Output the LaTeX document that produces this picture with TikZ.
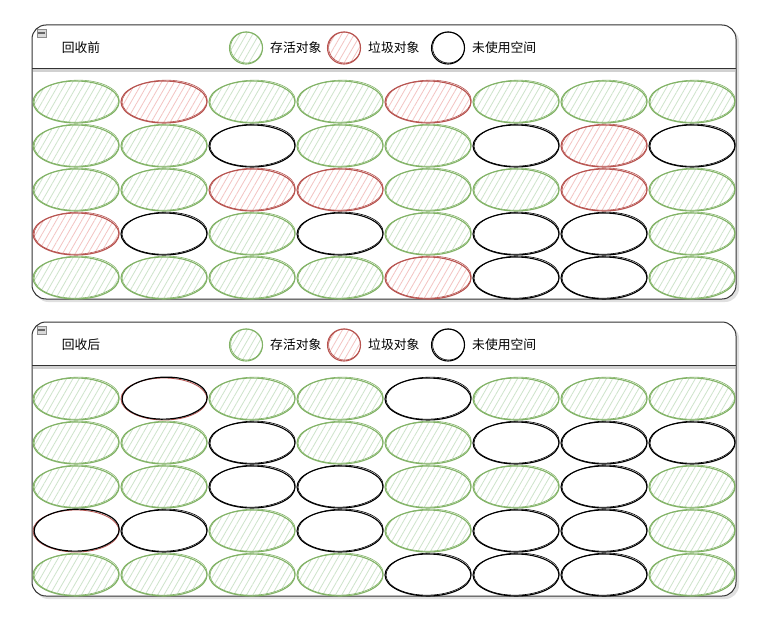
\documentclass[tikz,border=0pt]{standalone}
\usepackage{fontspec}
\setmainfont{Noto Sans CJK SC}
\usetikzlibrary{shapes.geometric,patterns.meta}
\definecolor{gstroke}{HTML}{82B366}
\definecolor{gfill}{HTML}{D5E8D4}
\definecolor{rstroke}{HTML}{B85450}
\definecolor{rfill}{HTML}{F8CECC}
\definecolor{frame}{HTML}{333333}

\newcommand\gcpanel[4]{%
  % shadow and frame
  \fill[black!12, rounded corners=14pt] (34.5,#2+2.5) rectangle (739,#2+277);
  \draw[fill=white, draw=frame, line width=1pt, rounded corners=14pt] (32,#2) rectangle (736,#2+274);
  \draw[black!18, line width=3pt] (33,#2+45.5) -- (735,#2+45.5);
  \draw[frame, line width=1pt] (32,#2+43.5) -- (736,#2+43.5);
  % minimise icon
  \draw[fill=black!15, draw=black!45, line width=0.6pt] (37,#2+4) rectangle (46,#2+12);
  \fill[black!60] (38.3,#2+7.3) rectangle (44.7,#2+9.3);
  % title and legend
  \node[txt] (title#1) at (81,#2+23) {#3};
  \node[cellG, minimum width=33pt, minimum height=32pt] (lg#1) at (246,#2+23) {};
  \draw[lineG] ([xshift=0.6pt,yshift=0.5pt]lg#1.center) ellipse [x radius=16pt, y radius=15.5pt];
  \node[txt, anchor=west] (lgt#1) at (270,#2+23) {存活对象};
  \node[cellR, minimum width=33pt, minimum height=32pt] (lr#1) at (344,#2+23) {};
  \draw[lineR] ([xshift=0.6pt,yshift=0.5pt]lr#1.center) ellipse [x radius=16pt, y radius=15.5pt];
  \node[txt, anchor=west] (lrt#1) at (368,#2+23) {垃圾对象};
  \node[cellB, minimum width=33pt, minimum height=32pt] (lb#1) at (448,#2+23) {};
  \draw[lineB] ([xshift=0.6pt,yshift=0.5pt]lb#1.center) ellipse [x radius=16pt, y radius=15.5pt];
  \node[txt, anchor=west] (lbt#1) at (472,#2+23) {未使用空间};
  % cells
  \foreach \rowlist [count=\r] in {#4} {
    \foreach \c [count=\k] in \rowlist {
      \pgfmathsetmacro\cx{76+88*(\k-1)}
      \pgfmathsetmacro\cy{#2+77+44*(\r-1)}
      \node[cell\c] (c#1-\r-\k) at (\cx,\cy) {};
      \draw[line\c, rotate around={1.5:(c#1-\r-\k.center)}]
        ([xshift=0.7pt,yshift=0.8pt]c#1-\r-\k.center) ellipse [x radius=42.6pt, y radius=21pt];
    }
  }
}

\begin{document}
\begin{tikzpicture}[x=1pt,y=-1pt,
  txt/.style={inner sep=0pt, font=\fontsize{12.8}{15}\selectfont, text=black},
  cellbase/.style={ellipse, minimum width=86pt, minimum height=42pt, inner sep=0pt, line width=1.1pt},
  cellG/.style={cellbase, draw=gstroke, pattern={Lines[angle=60,distance=5.5pt,line width=0.8pt]}, pattern color=gfill!92!gstroke},
  cellR/.style={cellbase, draw=rstroke, pattern={Lines[angle=60,distance=5.5pt,line width=0.8pt]}, pattern color=rfill!92!rstroke},
  cellB/.style={cellbase, draw=black, fill=white},
  cellX/.style={cellbase, draw=rstroke, fill=white, line width=0.8pt},
  lineG/.style={draw=gstroke, line width=0.6pt},
  lineR/.style={draw=rstroke, line width=0.6pt},
  lineB/.style={draw=black, line width=0.6pt},
  lineX/.style={draw=black, line width=1.2pt},
]
\useasboundingbox (0,0) rectangle (774,626);
\gcpanel{1}{25}{回收前}{{G,R,G,G,R,G,G,G},{G,G,B,G,G,B,R,B},{G,G,R,R,G,G,R,G},{R,B,G,B,G,B,B,G},{G,G,G,G,R,B,B,G}}
\gcpanel{2}{322}{回收后}{{G,X,G,G,B,G,G,G},{G,G,B,G,G,B,B,B},{G,G,B,B,G,G,B,G},{X,B,G,B,G,B,B,G},{G,G,G,G,B,B,B,G}}
\end{tikzpicture}
\end{document}
